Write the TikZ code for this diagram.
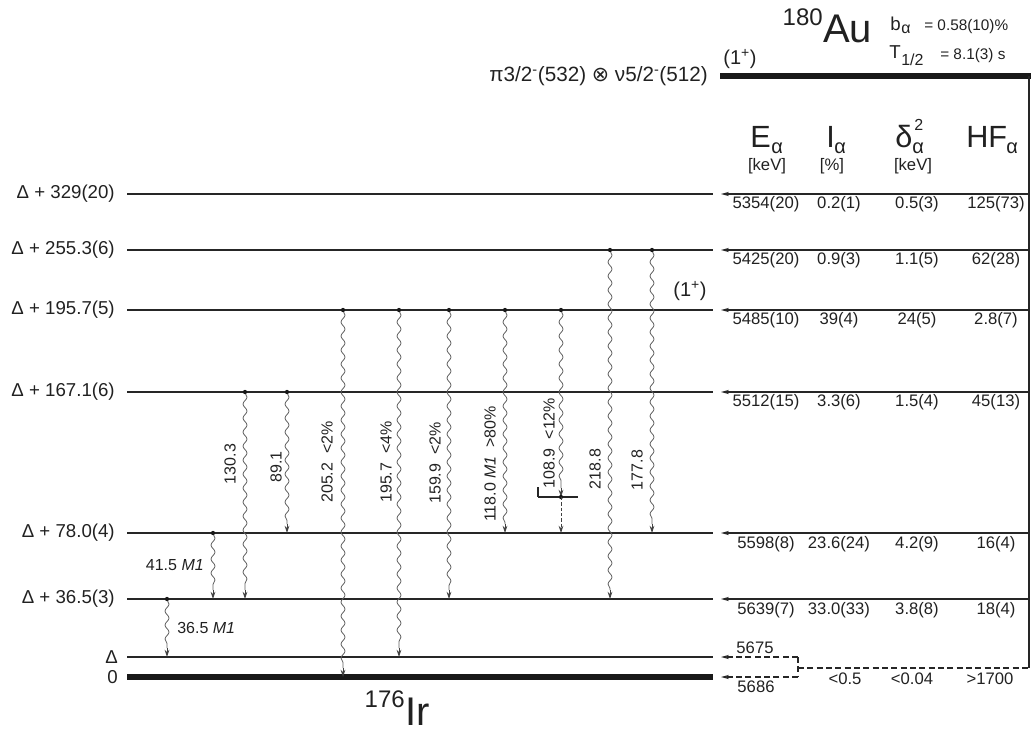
\documentclass[tikz,border=0pt]{standalone}
\usepackage{fontspec}
\setmainfont{Liberation Sans}
\newfontfamily\dejavu{DejaVu Sans}
\usetikzlibrary{arrows.meta,decorations.pathmorphing}
\begin{document}
\begin{tikzpicture}[x=0.75pt,y=-0.75pt,
 txt/.style={inner sep=0pt, text=black!87},
 lvl/.style={draw=black!85, line width=0.9pt},
 gslvl/.style={draw=black!90, line width=3.8pt},
 lbl/.style={txt, anchor=east, font=\fontsize{14}{16}\selectfont},
 tab/.style={txt, font=\fontsize{12.5}{14}\selectfont},
 hdr/.style={txt, anchor=base west, font=\fontsize{23}{26}\selectfont},
 hsub/.style={txt, anchor=base west, font=\fontsize{15}{17}\selectfont},
 unit/.style={txt, font=\fontsize{12.5}{14}\selectfont},
 glab/.style={txt, rotate=90, font=\fontsize{12}{14}\selectfont},
 gtip/.style={-{Stealth[length=5.5pt,width=3.6pt]}},
 gam/.style={draw=black!62, line width=0.6pt, decorate, decoration={snake, segment length=10.5pt, amplitude=1.5pt, pre length=0.5pt, post length=1pt}},
 gend/.style={draw=black!75, line width=0.6pt, gtip},
 atip/.style={-{Stealth[length=6pt,width=3.2pt]}},
 alph/.style={draw=black!85, line width=0.8pt, atip},
 dsh/.style={draw=black!85, line width=0.8pt, dash pattern=on 4.5pt off 2.5pt},
 dotm/.style={fill=black!90},
]
\useasboundingbox (0,0) rectangle (1031,732);

% parent 180Au
\coordinate (auL) at (720,76);
\coordinate (auR) at (1031,76);
\coordinate (vT) at (1029,76);
\coordinate (vB) at (1029,668);
\draw[gslvl] (auL) -- (auR);
\draw[draw=black!85, line width=1.1pt] (vT) -- (vB);
\node[txt, anchor=base east, font=\fontsize{18}{20}\selectfont] (au180) at (823,25) {180};
\node[txt, anchor=base west, font=\fontsize{30}{32}\selectfont] (au) at (823,42) {Au};
\node[txt, anchor=base west, font=\fontsize{14}{16}\selectfont] (bsym) at (890,30) {b};
\node[txt, anchor=base west, font=\fontsize{12}{14}\selectfont] (bsub) at (901,33) {α};
\node[txt, anchor=base west, font=\fontsize{11.5}{13}\selectfont] (bval) at (924,30) {= 0.58(10)\%};
\node[txt, anchor=base west, font=\fontsize{14}{16}\selectfont] (tsym) at (889,58) {T};
\node[txt, anchor=base west, font=\fontsize{12}{14}\selectfont] (tsub) at (901,65) {1/2};
\node[txt, anchor=base west, font=\fontsize{11.5}{13}\selectfont] (tval) at (940,59) {= 8.1(3) s};
\node[txt, font=\fontsize{15}{17}\selectfont] (jpar) at (740,59) {(1\textsuperscript{+})};
\node[txt, anchor=east, font=\fontsize{15.5}{17}\selectfont] (conf) at (708,76) {π3/2\textsuperscript{-}(532) {\dejavu ⊗} ν5/2\textsuperscript{-}(512)};

% column headers
\node[hdr] (hE) at (750,147) {E};
\node[hsub] (hEs) at (771,153) {α};
\node[hdr] (hI) at (826,147) {I};
\node[hsub] (hIs) at (834,153) {α};
\node[hdr] (hD) at (895,147) {δ};
\node[txt, anchor=base west, font=\fontsize{12}{14}\selectfont] (hDp) at (914,130) {2};
\node[hsub] (hDs) at (912,153) {α};
\node[hdr] (hH) at (966,147) {HF};
\node[hsub] (hHs) at (1006,153) {α};
\node[unit] (uE) at (767,166) {[keV]};
\node[unit] (uI) at (832,166) {[\%]};
\node[unit] (uD) at (913,166) {[keV]};

% daughter levels
\foreach \n/\y/\t in {329/194/{Δ + 329(20)}, 255/250/{Δ + 255.3(6)}, 195/310/{Δ + 195.7(5)}, 167/392/{Δ + 167.1(6)}, 78/533/{Δ + 78.0(4)}, 36/599/{Δ + 36.5(3)}}{
  \coordinate (lvA\n) at (127,\y);
  \coordinate (lvB\n) at (713,\y);
  \draw[lvl] (lvA\n) -- (lvB\n);
  \node[lbl] (lab\n) at (115,\y) {\t};
  \coordinate (aR\n) at (1029,\y);
  \coordinate (aL\n) at (721,\y);
  \draw[alph] (aR\n) -- (aL\n);
}
\coordinate (lvAD) at (127,657);
\coordinate (lvBD) at (713,657);
\draw[lvl] (lvAD) -- (lvBD);
\node[lbl] (labD) at (118,657) {Δ};
\coordinate (lvA0) at (127,677);
\coordinate (lvB0) at (713,677);
\draw[gslvl] (lvA0) -- (lvB0);
\node[lbl] (lab0) at (118,677) {0};
\node[txt, anchor=base east, font=\fontsize{18}{20}\selectfont] (ir176) at (405,707) {176};
\node[txt, anchor=base west, font=\fontsize{30}{32}\selectfont] (ir) at (405,725) {Ir};
\node[txt, font=\fontsize{15}{17}\selectfont] (jpar2) at (690,291) {(1\textsuperscript{+})};

% table
\foreach \y/\e/\i/\d/\h in {204/5354(20)/0.2(1)/0.5(3)/125(73), 260/5425(20)/0.9(3)/1.1(5)/62(28), 320/5485(10)/39(4)/24(5)/2.8(7), 402/5512(15)/3.3(6)/1.5(4)/45(13), 544/5598(8)/23.6(24)/4.2(9)/16(4), 610/5639(7)/33.0(33)/3.8(8)/18(4)}{
  \node[tab] at (766,\y) {\e};
  \node[tab] at (839,\y) {\i};
  \node[tab] at (917,\y) {\d};
  \node[tab] at (996,\y) {\h};
}
\node[tab] (e5675) at (755,648) {5675};
\node[tab] (e5686) at (756,687) {5686};
\node[tab] (ilim) at (845,679) {<0.5};
\node[tab] (dlim) at (912,679) {<0.04};
\node[tab] (hlim) at (990,679) {>1700};

% dashed ground-state feeding
\coordinate (dV1) at (798,657);
\coordinate (dV2) at (798,677);
\coordinate (dL1) at (721,657);
\coordinate (dL2) at (721,677);
\coordinate (dM) at (798,668);
\coordinate (dR) at (1029,668);
\draw[dsh] (dV1) -- (dV2);
\draw[dsh, atip] (dV1) -- (dL1);
\draw[dsh, atip] (dV2) -- (dL2);
\draw[dsh] (dM) -- (dR);

% gamma transitions
\foreach \n/\x/\ys/\ye in {205/343/310/677, 196/399/310/657, 160/449/310/599, 118/505/310/533, 130/245/392/599, 89/287/392/533, 41/213/533/599, 36/167/599/657, 219/610/250/599, 178/652/250/533}{
  \coordinate (gs\n) at (\x,\ys);
  \coordinate (gt\n) at (\x,{\ye-9});
  \coordinate (ge\n) at (\x,\ye);
  \draw[gam] (gs\n) -- (gt\n);
  \draw[gend] (gt\n) -- (ge\n);
  \fill[dotm] (gs\n) circle (1.6pt);
}
\coordinate (gs109) at (561,310);
\coordinate (gt109) at (561,488);
\coordinate (gm109) at (561,497);
\coordinate (ge109) at (561,533);
\coordinate (barL) at (538,497);
\coordinate (barR) at (578,497);
\coordinate (barT) at (538,487);
\draw[gam] (gs109) -- (gt109);
\draw[gend] (gt109) -- (gm109);
\fill[dotm] (gs109) circle (1.6pt);
\draw[draw=black!85, line width=0.8pt] (barL) -- (barR);
\draw[draw=black!85, line width=0.8pt] (barT) -- (barL);
\fill[dotm] (gm109) circle (1.6pt);
\draw[draw=black!75, line width=0.6pt, dash pattern=on 2.5pt off 1.5pt, gtip] (gm109) -- (ge109);

% gamma labels
\node[glab] (t205) at (327,462) {205.2~~<2\%};
\node[glab] (t196) at (386,462) {195.7~~<4\%};
\node[glab] (t160) at (435,463) {159.9~~<2\%};
\node[glab] (t118) at (490,464) {118.0 \textit{M1}~~>80\%};
\node[glab] (t109) at (549,443) {108.9~~<12\%};
\node[glab] (t219) at (595,469) {218.8};
\node[glab] (t178) at (637,470) {177.8};
\node[glab] (t130) at (230,464) {130.3};
\node[glab] (t89) at (276,467) {89.1};
\node[txt, anchor=east, font=\fontsize{12}{14}\selectfont] (t41) at (204,565) {41.5 \textit{M1}};
\node[txt, anchor=west, font=\fontsize{12}{14}\selectfont] (t36) at (177,628) {36.5 \textit{M1}};
\end{tikzpicture}
\end{document}
